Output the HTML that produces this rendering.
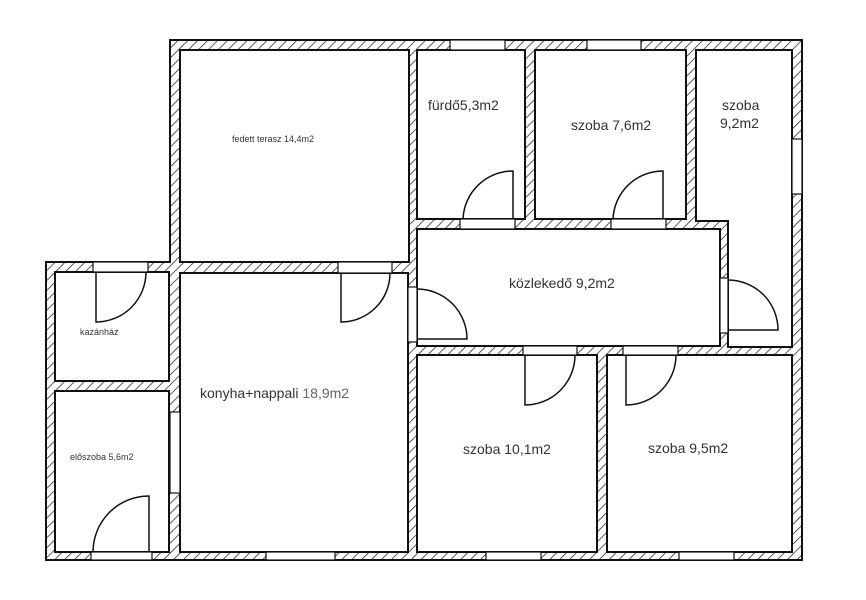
<!DOCTYPE html>
<html><head><meta charset="utf-8"><style>
html,body{margin:0;padding:0;background:#fff;}
svg{display:block;}
text{font-family:"Liberation Sans",sans-serif;fill:#333;}
</style></head><body>
<svg width="866" height="600" viewBox="0 0 866 600" xmlns="http://www.w3.org/2000/svg">
<defs>
<pattern id="h" width="7" height="7" patternUnits="userSpaceOnUse" patternTransform="rotate(45)">
<rect width="7" height="7" fill="#fff"/><line x1="0" y1="0" x2="0" y2="7" stroke="#333" stroke-width="1.6"/>
</pattern>
</defs>
<rect width="866" height="600" fill="#fff"/>
<polygon points="170,40 802,40 802,560 46,560 46,262 170,262" fill="url(#h)" stroke="#111" stroke-width="2"/>
<g fill="#fff" stroke="#111" stroke-width="2">
<rect x="180" y="50" width="229" height="212"/>
<rect x="417" y="50" width="108" height="169"/>
<rect x="535" y="50" width="151" height="169"/>
<polygon points="696,50 792,50 792,347 728,347 728,221 696,221"/>
<rect x="417" y="229" width="303" height="117"/>
<rect x="55" y="272" width="114" height="109"/>
<rect x="55" y="391" width="114" height="161"/>
<rect x="180" y="273" width="228" height="279"/>
<rect x="417" y="355" width="180" height="197"/>
<rect x="607" y="355" width="185" height="197"/>
</g>
<!-- windows / door gaps -->
<g fill="#fff" stroke="#111" stroke-width="1.2">
<rect x="450" y="40" width="55" height="10"/>
<rect x="587" y="40" width="54" height="10"/>
<rect x="792" y="139" width="10" height="55"/>
<rect x="338" y="262" width="54" height="11"/>
<rect x="93" y="262" width="55" height="10"/>
<rect x="91" y="552" width="61" height="8"/>
<rect x="170" y="412" width="10" height="81"/>
<rect x="266" y="552" width="69" height="8"/>
<rect x="408" y="287" width="9" height="55"/>
<rect x="460" y="219" width="55" height="10"/>
<rect x="611" y="219" width="55" height="10"/>
<rect x="720" y="278" width="8" height="55"/>
<rect x="523" y="346" width="54" height="9"/>
<rect x="623" y="346" width="55" height="9"/>
<rect x="486" y="552" width="55" height="8"/>
<rect x="679" y="552" width="55" height="8"/>
</g>
<!-- doors -->
<g fill="none" stroke="#111" stroke-width="1.5">
<path d="M341 273 V322 A49 49 0 0 0 390 273"/>
<path d="M96 272 V322 A50 50 0 0 0 146 272"/>
<path d="M149 552 V496 A56 56 0 0 0 93 552"/>
<path d="M417 339 H467 A50 50 0 0 0 417 289"/>
<path d="M513 219 V171 A50 50 0 0 0 463 219"/>
<path d="M663 219 V171 A50 50 0 0 0 613 219"/>
<path d="M728 330 H778 A50 50 0 0 0 728 280"/>
<path d="M525 355 V405 A50 50 0 0 0 575 355"/>
<path d="M626 355 V405 A50 50 0 0 0 676 355"/>
</g>
<g font-size="14">
<text x="232" y="142" font-size="9">fedett terasz 14,4m2</text>
<text x="428" y="110">fürdő5,3m2</text>
<text x="571" y="130">szoba 7,6m2</text>
<text x="722" y="110">szoba</text>
<text x="720" y="128">9,2m2</text>
<text x="509" y="288">közlekedő 9,2m2</text>
<text x="80" y="335" font-size="9">kazánház</text>
<text x="200" y="398">konyha+nappali <tspan fill="#666">18,9m2</tspan></text>
<text x="70" y="460" font-size="9">előszoba 5,6m2</text>
<text x="463" y="454">szoba 10,1m2</text>
<text x="648" y="453">szoba 9,5m2</text>
</g>
</svg>
</body></html>
